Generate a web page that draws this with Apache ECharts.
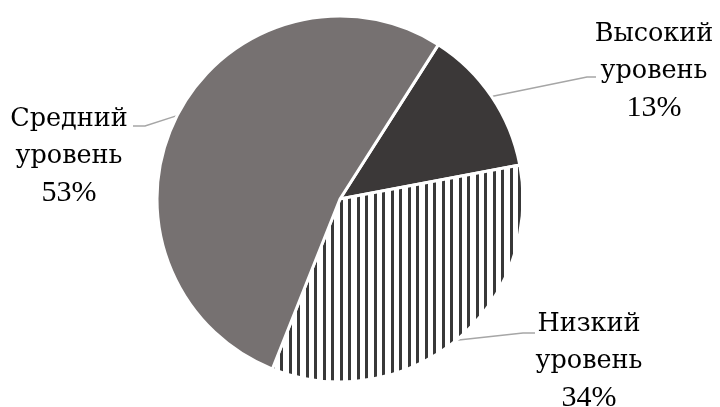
<!DOCTYPE html>
<html><head><meta charset="utf-8">
<script src="https://cdn.jsdelivr.net/npm/echarts@6/dist/echarts.min.js"></script>
<style>html,body{margin:0;padding:0;background:#fff}#c{width:720px;height:407px}</style>
</head><body><div id="c"></div>
<script>
const categories = ['Высокий\nуровень', 'Низкий\nуровень', 'Средний\nуровень'];
const values = [13, 34, 53];

// layout config (label block centers, leader-line bend and end)
const labelCenters = [[654, 71], [589, 361], [69, 156]];
const lineBends = [[587, 77], [523, 333], [145, 126]];
const lineEnds = [[596, 77], [535, 333], [133, 126]];

function stripes() {
  const c = document.createElement('canvas');
  c.width = 17; c.height = 4;
  const g = c.getContext('2d');
  g.fillStyle = '#ffffff'; g.fillRect(0, 0, 17, 4);
  g.fillStyle = '#383838';
  g.fillRect(0, 0, 3, 4);
  g.fillRect(8, 0, 3, 4);
  return c;
}

const colors = ['#3b3838', {image: stripes(), repeat: 'repeat'}, '#767171'];

const chart = echarts.init(document.getElementById('c'), null, {renderer: 'canvas'});
chart.setOption({
  animation: false,
  backgroundColor: '#ffffff',
  series: [{
    type: 'pie',
    center: [340, 199],
    radius: 183,
    startAngle: 57.5,
    clockwise: true,
    data: categories.map((n, i) => ({
      name: n, value: values[i],
      itemStyle: {color: colors[i]}
    })),
    itemStyle: {borderColor: '#ffffff', borderWidth: 3},
    label: {
      show: true,
      formatter: p => p.name.split('\n').map(s => '{n|' + s + '}').join('\n') +
        '\n{p|' + Math.round(p.percent) + '%}',
      color: '#000000',
      align: 'center',
      lineHeight: 37,
      rich: {
        n: {fontFamily: 'DejaVu Serif', fontSize: 25.5, lineHeight: 37, color: '#000', align: 'center'},
        p: {fontFamily: 'Liberation Serif', fontSize: 30, lineHeight: 37, color: '#000', align: 'center'}
      }
    },
    labelLine: {show: true, lineStyle: {color: '#a6a6a6', width: 1.5}, smooth: false},
    labelLayout: function (params) {
      const i = params.dataIndex;
      const start = params.labelLinePoints ? params.labelLinePoints[0] : lineBends[i];
      return {
        x: labelCenters[i][0],
        y: labelCenters[i][1],
        align: 'center',
        verticalAlign: 'middle',
        labelLinePoints: [start, lineBends[i], lineEnds[i]]
      };
    },
    emphasis: {disabled: true}
  }]
});
</script></body></html>
